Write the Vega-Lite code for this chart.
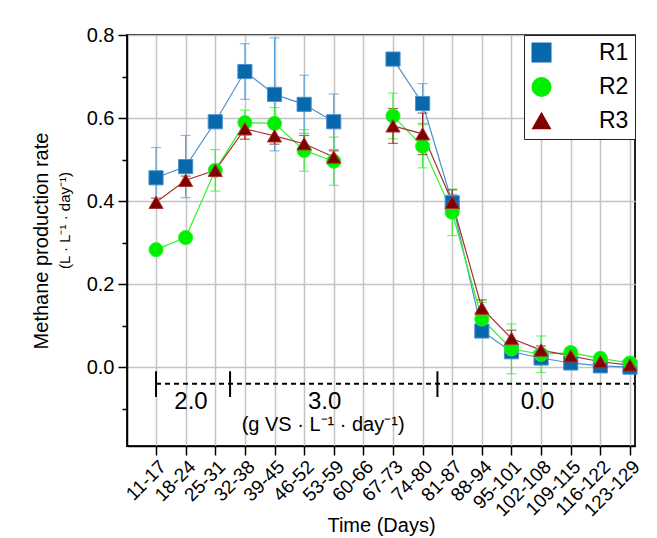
{
  "$schema": "https://vega.github.io/schema/vega-lite/v6.json",
  "width": 508,
  "height": 411,
  "autosize": "none",
  "padding": {"left": 127, "top": 35, "right": 22, "bottom": 92},
  "background": "white",
  "config": {
    "font": "Liberation Sans",
    "view": {"stroke": "#222", "strokeWidth": 2},
    "axis": {"labelColor": "black", "titleColor": "black", "titleFontWeight": "normal", "domainColor": "black", "tickColor": "black", "domainWidth": 1.5, "tickWidth": 1.5, "gridColor": "#c4c4c4", "gridWidth": 1.5, "gridOpacity": 1},
    "legend": {"orient": "top-right", "offset": 0, "strokeColor": "#222", "fillColor": "white", "padding": 6, "rowPadding": 9.5, "labelFontSize": 23, "labelOffset": 46, "symbolSize": 400, "symbolStrokeWidth": 1.2, "labelColor": "black"}
  },
  "datasets": {
    "series": [
      {"t": "11-17", "i": 0, "s": "R1", "v": 0.456, "e": 0.073},
      {"t": "18-24", "i": 1, "s": "R1", "v": 0.483, "e": 0.075},
      {"t": "25-31", "i": 2, "s": "R1", "v": 0.591, "e": 0.01},
      {"t": "32-38", "i": 3, "s": "R1", "v": 0.712, "e": 0.067},
      {"t": "39-45", "i": 4, "s": "R1", "v": 0.657, "e": 0.136},
      {"t": "46-52", "i": 5, "s": "R1", "v": 0.633, "e": 0.07},
      {"t": "53-59", "i": 6, "s": "R1", "v": 0.591, "e": 0.067},
      {"t": "60-66", "i": 7, "s": "R1", "v": null, "e": null},
      {"t": "67-73", "i": 8, "s": "R1", "v": 0.742, "e": 0.005},
      {"t": "74-80", "i": 9, "s": "R1", "v": 0.635, "e": 0.048},
      {"t": "81-87", "i": 10, "s": "R1", "v": 0.396, "e": 0.02},
      {"t": "88-94", "i": 11, "s": "R1", "v": 0.087, "e": 0.01},
      {"t": "95-101", "i": 12, "s": "R1", "v": 0.037, "e": 0.01},
      {"t": "102-108", "i": 13, "s": "R1", "v": 0.022, "e": 0.008},
      {"t": "109-115", "i": 14, "s": "R1", "v": 0.01, "e": 0.008},
      {"t": "116-122", "i": 15, "s": "R1", "v": 0.003, "e": 0.005},
      {"t": "123-129", "i": 16, "s": "R1", "v": 0.0, "e": 0.003},
      {"t": "11-17", "i": 0, "s": "R2", "v": 0.283, "e": 0.005},
      {"t": "18-24", "i": 1, "s": "R2", "v": 0.312, "e": 0.005},
      {"t": "25-31", "i": 2, "s": "R2", "v": 0.474, "e": 0.05},
      {"t": "32-38", "i": 3, "s": "R2", "v": 0.589, "e": 0.03},
      {"t": "39-45", "i": 4, "s": "R2", "v": 0.587, "e": 0.038},
      {"t": "46-52", "i": 5, "s": "R2", "v": 0.522, "e": 0.05},
      {"t": "53-59", "i": 6, "s": "R2", "v": 0.496, "e": 0.058},
      {"t": "60-66", "i": 7, "s": "R2", "v": null, "e": null},
      {"t": "67-73", "i": 8, "s": "R2", "v": 0.605, "e": 0.055},
      {"t": "74-80", "i": 9, "s": "R2", "v": 0.532, "e": 0.052},
      {"t": "81-87", "i": 10, "s": "R2", "v": 0.373, "e": 0.056},
      {"t": "88-94", "i": 11, "s": "R2", "v": 0.116, "e": 0.04},
      {"t": "95-101", "i": 12, "s": "R2", "v": 0.044, "e": 0.06},
      {"t": "102-108", "i": 13, "s": "R2", "v": 0.031, "e": 0.044},
      {"t": "109-115", "i": 14, "s": "R2", "v": 0.035, "e": 0.012},
      {"t": "116-122", "i": 15, "s": "R2", "v": 0.021, "e": 0.008},
      {"t": "123-129", "i": 16, "s": "R2", "v": 0.01, "e": 0.005},
      {"t": "11-17", "i": 0, "s": "R3", "v": 0.397, "e": 0.01},
      {"t": "18-24", "i": 1, "s": "R3", "v": 0.45, "e": 0.01},
      {"t": "25-31", "i": 2, "s": "R3", "v": 0.474, "e": 0.01},
      {"t": "32-38", "i": 3, "s": "R3", "v": 0.574, "e": 0.025},
      {"t": "39-45", "i": 4, "s": "R3", "v": 0.557, "e": 0.02},
      {"t": "46-52", "i": 5, "s": "R3", "v": 0.538, "e": 0.02},
      {"t": "53-59", "i": 6, "s": "R3", "v": 0.506, "e": 0.015},
      {"t": "60-66", "i": 7, "s": "R3", "v": null, "e": null},
      {"t": "67-73", "i": 8, "s": "R3", "v": 0.581, "e": 0.042},
      {"t": "74-80", "i": 9, "s": "R3", "v": 0.562, "e": 0.05},
      {"t": "81-87", "i": 10, "s": "R3", "v": 0.397, "e": 0.03},
      {"t": "88-94", "i": 11, "s": "R3", "v": 0.142, "e": 0.02},
      {"t": "95-101", "i": 12, "s": "R3", "v": 0.069, "e": 0.02},
      {"t": "102-108", "i": 13, "s": "R3", "v": 0.041, "e": 0.01},
      {"t": "109-115", "i": 14, "s": "R3", "v": 0.027, "e": 0.01},
      {"t": "116-122", "i": 15, "s": "R3", "v": 0.013, "e": 0.005},
      {"t": "123-129", "i": 16, "s": "R3", "v": 0.005, "e": 0.005}
    ],
    "dash": [{"i": 0, "i2": 16.17, "v": -0.04}],
    "bars": [
      {"i": 0, "v": -0.01, "v2": -0.072},
      {"i": 2.5, "v": -0.01, "v2": -0.072},
      {"i": 9.5, "v": -0.01, "v2": -0.072}
    ],
    "loads": [
      {"i": 1.18, "v": -0.085, "label": "2.0"},
      {"i": 5.69, "v": -0.085, "label": "3.0"},
      {"i": 12.88, "v": -0.085, "label": "0.0"}
    ],
    "unit": [{"i": 5.64, "v": -0.14, "label": "(g VS · L⁻¹ · day⁻¹)"}]
  },
  "encoding": {
    "x": {"field": "i", "type": "quantitative", "scale": {"domain": [-0.98, 16.17], "nice": false, "zero": false},
      "axis": {"title": "Time (Days)", "titleFontSize": 20, "titleY": 69, "values": [0,1,2,3,4,5,6,7,8,9,10,11,12,13,14,15,16], "labelExpr": "['11-17','18-24','25-31','32-38','39-45','46-52','53-59','60-66','67-73','74-80','81-87','88-94','95-101','102-108','109-115','116-122','123-129'][datum.value]", "labelAngle": -45, "labelFontSize": 19, "tickSize": 9, "labelPadding": 2, "grid": true, "labelFlush": false, "labelOverlap": false}}
  },
  "resolve": {"scale": {"y": "shared", "x": "shared"}, "axis": {"y": "independent"}},
  "layer": [
    {
      "data": {"name": "series"},
      "transform": [{"calculate": "datum.s", "as": "r"}],
      "mark": {"type": "line", "strokeWidth": 1.2, "invalid": "break-paths-show-domains"},
      "encoding": {
        "y": {"field": "v", "type": "quantitative", "scale": {"domain": [-0.19, 0.8], "nice": false, "zero": false},
          "axis": {"title": "Methane production rate", "titleFontSize": 20, "titleX": -80, "titleBaseline": "alphabetic", "values": [0, 0.2, 0.4, 0.6, 0.8], "format": ".1f", "labelFontSize": 20, "tickSize": 9, "labelPadding": 4, "grid": true}},
        "stroke": {"field": "r", "type": "nominal", "scale": {"range": ["#4a90cf", "#2cf52c", "#a83232"]}, "legend": null},
        "detail": {"field": "r"}
      }
    },
    {
      "data": {"name": "series"},
      "transform": [{"filter": "datum.v != null"}, {"calculate": "datum.s", "as": "r"}],
      "mark": {"type": "errorbar", "ticks": {"size": 10}, "thickness": 1.2},
      "encoding": {
        "y": {"field": "v", "type": "quantitative", "scale": {"domain": [-0.19, 0.8], "nice": false, "zero": false}, "axis": null},
        "yError": {"field": "e"},
        "color": {"field": "r", "type": "nominal", "scale": {"range": ["#5a9fd8", "#2cf52c", "#9b1c1c"]}, "legend": null}
      }
    },
    {
      "data": {"name": "series"},
      "transform": [{"calculate": "datum.s", "as": "r"}],
      "mark": {"type": "point", "filled": true, "opacity": 1, "strokeWidth": 1, "size": 200},
      "encoding": {
        "y": {"field": "v", "type": "quantitative", "scale": {"domain": [-0.19, 0.8], "nice": false, "zero": false}, "axis": null},
        "fill": {"field": "s", "type": "nominal", "title": null, "scale": {"domain": ["R1", "R2", "R3"], "range": ["#0868ac", "#00ee00", "#800000"]},
          "legend": {"encode": {"symbols": {
              "shape": {"value": {"expr": "datum.value === 'R1' ? 'M-1,0H4.9M1.2,-0.65H2.5V0.65H1.2Z' : datum.value === 'R2' ? 'M-1,0H4.9M2.55,0A0.7,0.7 0 1,1 1.15,0A0.7,0.7 0 1,1 2.55,0Z' : 'M-1,0H4.9M1.0,0.55L1.85,-0.85L2.7,0.55Z'"}},
              "stroke": {"value": {"expr": "datum.value === 'R1' ? '#4a90cf' : datum.value === 'R2' ? '#2cf52c' : '#a83232'"}}
            }}}},
        "shape": {"field": "s", "type": "nominal", "title": null, "scale": {"domain": ["R1", "R2", "R3"], "range": ["square", "circle", "triangle-up"]},
          "legend": {"encode": {"symbols": {
              "shape": {"value": {"expr": "datum.value === 'R1' ? 'M-1,0H4.9M1.2,-0.65H2.5V0.65H1.2Z' : datum.value === 'R2' ? 'M-1,0H4.9M2.55,0A0.7,0.7 0 1,1 1.15,0A0.7,0.7 0 1,1 2.55,0Z' : 'M-1,0H4.9M1.0,0.55L1.85,-0.85L2.7,0.55Z'"}},
              "stroke": {"value": {"expr": "datum.value === 'R1' ? '#4a90cf' : datum.value === 'R2' ? '#2cf52c' : '#a83232'"}}
            }}}},
        "stroke": {"field": "r", "type": "nominal", "scale": {"range": ["#4a90cf", "#2cf52c", "#a83232"]}, "legend": null}
      }
    },
    {
      "data": {"name": "dash"},
      "mark": {"type": "rule", "strokeDash": [5, 4], "strokeWidth": 2, "color": "black"},
      "encoding": {
        "x2": {"field": "i2"},
        "y": {"field": "v", "type": "quantitative", "scale": {"domain": [-0.19, 0.8], "nice": false, "zero": false},
          "axis": {"orient": "left", "title": "(L · L⁻¹ · day⁻¹)", "titleFontSize": 15, "titleX": -58, "titleY": 185, "titleBaseline": "alphabetic", "values": [-0.1, 0.1, 0.3, 0.5, 0.7], "labels": false, "domain": false, "grid": false, "tickSize": 5}}
      }
    },
    {
      "data": {"name": "bars"},
      "mark": {"type": "rule", "strokeWidth": 2, "color": "black"},
      "encoding": {
        "y": {"field": "v", "type": "quantitative", "scale": {"domain": [-0.19, 0.8], "nice": false, "zero": false}, "axis": null},
        "y2": {"field": "v2"}
      }
    },
    {
      "data": {"name": "loads"},
      "mark": {"type": "text", "fontSize": 24, "color": "black", "align": "center", "baseline": "middle"},
      "encoding": {
        "y": {"field": "v", "type": "quantitative", "scale": {"domain": [-0.19, 0.8], "nice": false, "zero": false}, "axis": null},
        "text": {"field": "label"}
      }
    },
    {
      "data": {"name": "unit"},
      "mark": {"type": "text", "fontSize": 20, "color": "black", "align": "center", "baseline": "middle"},
      "encoding": {
        "y": {"field": "v", "type": "quantitative", "scale": {"domain": [-0.19, 0.8], "nice": false, "zero": false}, "axis": null},
        "text": {"field": "label"}
      }
    }
  ]
}
